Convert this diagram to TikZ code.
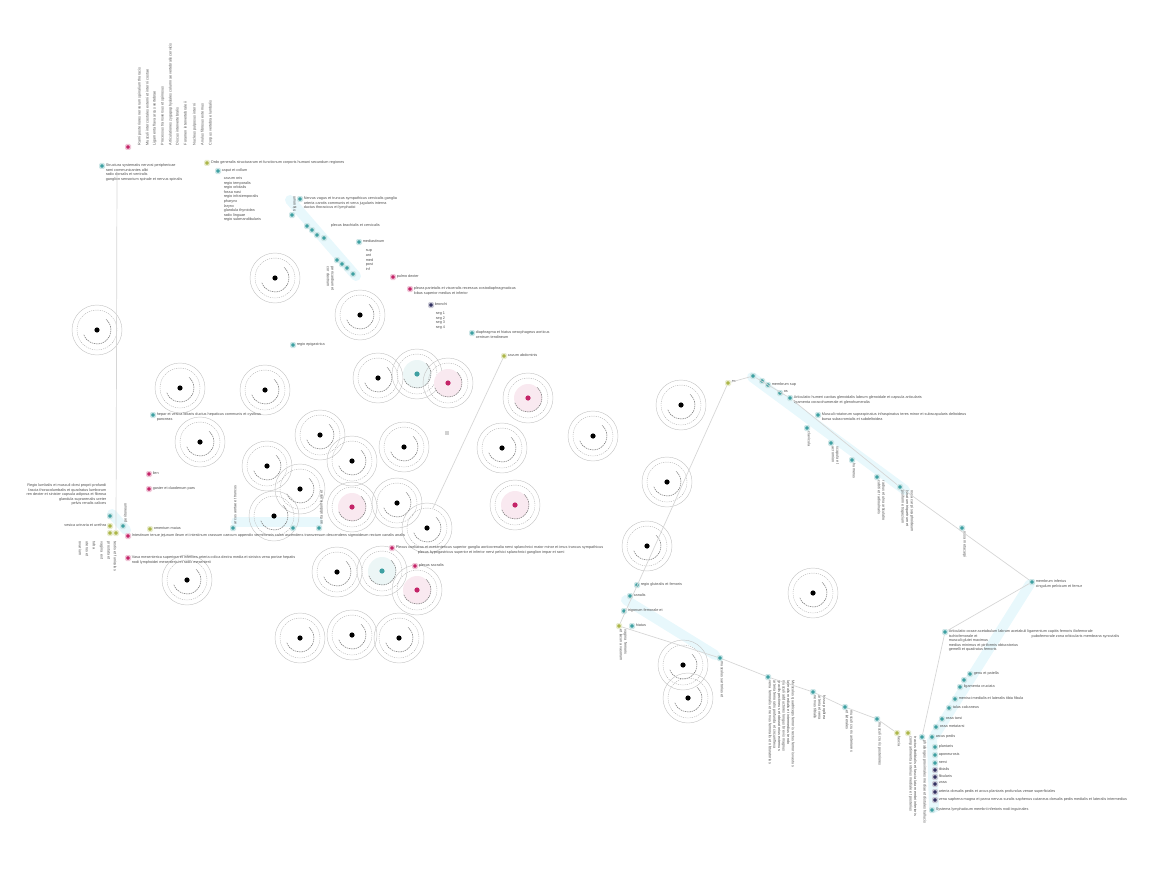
\documentclass[tikz,border=0pt]{standalone}
\usepackage{fontspec}
\setmainfont{Liberation Sans}
\usetikzlibrary{positioning}
\definecolor{dotteal}{RGB}{62,160,162}
\definecolor{dotmag}{RGB}{196,36,104}
\definecolor{dotolive}{RGB}{172,182,72}
\definecolor{dotnavy}{RGB}{52,50,98}
\definecolor{wiregray}{RGB}{214,214,214}
\definecolor{textgray}{RGB}{80,80,80}
\definecolor{bandcyan}{RGB}{232,248,252}
\tikzset{
  dot/.style={rectangle, rounded corners=1pt, fill=#1, draw=#1!25, line width=1.4pt, minimum size=4.6pt, inner sep=0pt},
  lbl/.style={font=\fontsize{3.8}{4.6}\selectfont, text=textgray, inner sep=0.6pt, align=left, anchor=north west},
  lblr/.style={lbl, anchor=north east, align=right},
  vdown/.style={lbl, rotate=-90, anchor=south west},
  vup/.style={lbl, rotate=90, anchor=north west},
  wire/.style={draw=wiregray, line width=0.7pt},
  band/.style={draw=bandcyan, line width=10pt, line cap=round},
  ring/.pic={
    \draw[gray!45, line width=0.45pt] (0,0) circle (25);
    \draw[gray!60, line width=0.4pt, dash pattern=on 1.2pt off 1pt] (0,0) circle (20);
    \draw[gray!85!black, line width=0.5pt, dash pattern=on 1.5pt off 0.8pt] (160:14) arc (160:-50:14);
    \fill[#1] (0,0) circle (2.6);
  },
  ringc/.pic={
    \fill[#1!10] (0,0) circle (14);
    \pic {ring=#1};
  }
}
\begin{document}
\begin{tikzpicture}[x=1pt,y=-1pt]
\useasboundingbox (0,0) rectangle (1154,888);

% light bands behind the dot runs
\draw[band] (290,200) -- (356,276);
\draw[band] (752,377) -- (905,490);
\draw[band] (1030,584) -- (935,735);
\draw[band] (932,740) -- (934,808);
\draw[band] (626,600) -- (715,655);
\draw[band] (236,522) -- (318,522);
\draw[band] (112,514) -- (126,530);

% rings
\foreach \x/\y in {275/278, 97/330, 360/315, 180/388, 265/390, 200/442, 378/378,
  320/435, 352/461, 404/447, 267/466, 300/489, 274/516, 397/503, 427/528,
  502/448, 593/436, 681/405, 667/482, 647/546, 337/572, 300/638, 352/635,
  399/638, 187/580, 813/593, 683/665, 688/698}
  \pic at (\x,\y) {ring=black};
\foreach \x/\y in {417/374, 382/571}
  \pic at (\x,\y) {ringc=dotteal};
\foreach \x/\y in {448/383, 528/398, 352/507, 515/505, 417/590}
  \pic at (\x,\y) {ringc=dotmag};

% upper left group
\node[dot=dotmag] (topmag) at (128,147) {};
\foreach \x/\t in {137/{Rami posteriores nervorum spinalium thoracis},
  145/{Musculi intercostales externi et interni costae},
  152/{Ligamenta flava arcus vertebrae},
  160/{Processus transversus et spinosus},
  168/{Articulationes zygapophysiales columnae vertebralis cervicis},
  175/{Discus intervertebralis},
  183/{Foramen intervertebrale ii},
  192/{Nucleus pulposus interni},
  200/{Anulus fibrosus externus},
  208/{Corpus vertebrae lumbalis}}
  \node[vup] at (\x,146) {\t};
\node[dot=dotteal] (topteal) at (102,166) {};
\node[lbl] at (topteal.north east) {Structura systematis nervosi periphericae\\ rami communicantes albi\\ radix dorsalis et ventralis\\ ganglion sensorium spinale et nervus spinalis};
\coordinate (vtop) at (117,172);
\node[dot=dotolive] (listolive) at (207,163) {};
\node[lbl] at (listolive.north east) {Ordo generalis structurarum et functionum corporis humani secundum regiones};
\node[dot=dotteal] (listteal) at (218,171) {};
\node[lbl] at (listteal.north east) {caput et collum};
\node[lbl, anchor=north west] (list) at (223,176) {cavum oris\\ regio temporalis\\ regio orbitalis\\ fossa nasi\\ regio infratemporalis\\ pharynx\\ larynx\\ glandula thyroidea\\ radix linguae\\ regio submandibularis};
\node[dot=dotteal] (vteal) at (292,215) {};
\node[vup] at (vteal.north) {trigonum};
\node[dot=dotteal] (nteal) at (300,199) {};
\node[lbl] at (nteal.north east) {Nervus vagus et truncus sympathicus cervicalis ganglia\\ arteria carotis communis et vena jugularis interna\\ ductus thoracicus et lymphatici};
\foreach \n/\x/\y in {c1/307/226, c2/312/230, c3/317/235, c4/324/238}
  \node[dot=dotteal] (\n) at (\x,\y) {};
\node[lbl] at (330,223) {plexus brachialis et cervicalis};
\node[dot=dotteal] (steal) at (359,242) {};
\node[lbl] at (steal.north east) {mediastinum};
\node[lbl] at (365,249) {sup\\ ant\\ med\\ post\\ inf};
\foreach \n/\x/\y in {d1/337/260, d2/342/264, d3/347/268, d4/353/274}
  \node[dot=dotteal] (\n) at (\x,\y) {};
\node[vdown] at (326,266) {pericardium et\\ cor dextrum};
\node[dot=dotmag] (amag) at (393,277) {};
\node[lbl] at (amag.north east) {pulmo dexter};
\node[dot=dotmag] (bmag) at (410,289) {};
\node[lbl] at (bmag.north east) {pleura parietalis et visceralis recessus costodiaphragmaticus\\ lobus superior medius et inferior};
\node[dot=dotnavy] (cmag) at (431,305) {};
\node[lbl] at (cmag.north east) {bronchi};
\node[lbl] at (435,311) {seg 1\\ seg 2\\ seg 3\\ seg 4};
\node[dot=dotteal] (eteal) at (472,333) {};
\node[lbl] at (eteal.north east) {diaphragma et hiatus oesophageus aorticus\\ centrum tendineum};
\node[dot=dotolive] (midolive) at (504,356) {};
\node[lbl] at (midolive.north east) {cavum abdominis};
\node[dot=dotteal] (fteal) at (293,345) {};
\node[lbl] at (fteal.north east) {regio epigastrica};
\node[dot=dotteal] (gteal) at (153,415) {};
\node[lbl] at (gteal.north east) {hepar et vesica biliaris ductus hepaticus communis et cysticus\\ pancreas};
\node[dot=dotmag] (hmag) at (149,474) {};
\node[lbl] at (hmag.north east) {lien};
\node[dot=dotmag] (imag) at (149,489) {};
\node[lbl] at (imag.north east) {gaster et duodenum pars};

% lower left group
\node[dot=dotteal] (lteal) at (110,516) {};
\node[lblr] at (107,483) {Regio lumbalis et musculi dorsi proprii profundi\\ fascia thoracolumbalis et quadratus lumborum\\ ren dexter et sinister capsula adiposa et fibrosa\\ glandula suprarenalis ureter\\ pelvis renalis calices};
\node[dot=dotolive] (lolive) at (110,526) {};
\node[lblr] at (lolive.north west) {vesica urinaria et urethra};
\node[dot=dotolive] (lolivea) at (110,533) {};
\node[dot=dotolive] (loliveb) at (116,533) {};
\node[dot=dotteal] (lteala) at (123,526) {};
\node[vup] at (lteala.north) {peritoneum};
\foreach \x/\t in {78/{ovarium}, 85/{uterus et}, 92/{tuba}, 99/{vagina ext}, 106/{prostata et}, 113/{testis et funiculus}}
  \node[vdown, anchor=south west] at (\x,541) {\t};
\node[dot=dotmag] (jmag) at (128,536) {};
\node[lbl] at (jmag.north east) {Intestinum tenue jejunum ileum et intestinum crassum caecum appendix vermiformis colon ascendens transversum descendens sigmoideum rectum canalis analis};
\node[dot=dotmag] (kmag) at (128,558) {};
\node[lbl] at (kmag.north east) {Vasa mesenterica superiora et inferiora arteria colica dextra media et sinistra vena portae hepatis\\ nodi lymphoidei mesenterici et radix mesenterii};
\node[dot=dotolive] (molive) at (150,529) {};
\node[lbl] at (molive.north east) {omentum maius};
\node[dot=dotteal] (nteala) at (233,528) {};
\node[vup] at (nteala.north) {arcus aortae et truncus};
\node[dot=dotteal] (ntealb) at (293,528) {};
\node[dot=dotteal] (ntealc) at (319,528) {};
\node[vup] at (ntealc.north) {aorta abdominalis et};
\node[dot=dotmag] (omag) at (392,548) {};
\node[lbl] at (omag.north east) {Plexus coeliacus et mesentericus superior ganglia aorticorenalia nervi splanchnici maior minor et imus truncus sympathicus\\ \hspace*{22pt}plexus hypogastricus superior et inferior nervi pelvici splanchnici ganglion impar et rami};
\node[dot=dotmag] (pmag) at (415,566) {};
\node[lbl] at (pmag.north east) {plexus sacralis};
\node[fill=gray!35, minimum size=4pt, inner sep=0pt] (sq) at (447,433) {};

% right group
\node[dot=dotolive] (rolive) at (728,383) {};
\node[lbl] at (rolive.north east) {ex};
\foreach \n/\x/\y in {r1/753/376, r2/762/381, r3/768/385}
  \node[dot=dotteal] (\n) at (\x,\y) {};
\node[lbl] at (r3.north east) {membrum sup};
\node[dot=dotteal] (r4) at (780,393) {};
\node[lbl] at (r4.north east) {os};
\node[dot=dotteal] (r5) at (790,398) {};
\node[lbl] at (r5.north east) {Articulatio humeri cavitas glenoidalis labrum glenoidale et capsula articularis\\ ligamenta coracohumerale et glenohumeralia};
\node[dot=dotteal] (r6) at (818,415) {};
\node[lbl] at (r6.north east) {Musculi rotatorum supraspinatus infraspinatus teres minor et subscapularis deltoideus\\ bursa subacromialis et subdeltoidea};
\node[dot=dotteal] (r7) at (807,428) {};
\node[vdown] at (r7.south) {clavicula};
\node[dot=dotteal] (r8) at (831,443) {};
\node[vdown] at (r8.south) {scapula et\\ acromion};
\node[dot=dotteal] (r9) at (852,460) {};
\node[vdown] at (r9.south) {humerus};
\node[dot=dotteal] (r10) at (877,477) {};
\node[vdown] at (r10.south) {radius et ulna articulatio\\ cubiti et radioulnaris};
\node[dot=dotteal] (r11) at (900,487) {};
\node[vdown] at (r11.south) {ossa carpi scaphoideum\\ lunatum triquetrum et\\ pisiforme trapezium};
\node[dot=dotteal] (r12) at (962,528) {};
\node[vdown] at (r12.south) {ossa metacarpi};
\node[dot=dotteal] (rfar) at (1032,582) {};
\node[lbl] at (rfar.north east) {membrum inferius\\ cingulum pelvicum et femur};
\node[dot=dotteal] (s1) at (945,632) {};
\node[lbl] at (s1.north east) {Articulatio coxae acetabulum labrum acetabuli ligamentum capitis femoris iliofemorale\\ ischiofemorale et \hspace{52pt} pubofemorale zona orbicularis membrana synovialis\\ musculi glutei maximus\\ medius minimus et piriformis obturatorius\\ gemelli et quadratus femoris};
\foreach \n/\x/\y/\t in {s2/970/674/{genu et patella},
  s3/964/680/{},
  s4/960/687/{ligamenta cruciata},
  s5/955/699/{menisci medialis et lateralis tibia fibula},
  s6/949/708/{talus calcaneus},
  s7/942/719/{ossa tarsi},
  s8/936/727/{ossa metatarsi}}
  { \node[dot=dotteal] (\n) at (\x,\y) {};
    \node[lbl] at (\n.north east) {\t}; }
\node[dot=dotteal] (s9) at (922,737) {};
\node[vdown] at (s9.south) {phalanges proximales mediae et distales hallucis};
\node[dot=dotteal] (s10) at (932,737) {};
\node[lbl] at (s10.north east) {arcus pedis};
\foreach \n/\y/\c/\t in {u1/747/dotteal/{plantaris},
  u2/755/dotteal/{aponeurosis},
  u3/763/dotteal/{nervi},
  u4/770/dotnavy/{tibialis},
  u5/777/dotnavy/{fibularis},
  u6/784/dotnavy/{vasa},
  u7/792/dotnavy/{arteria dorsalis pedis et arcus plantaris profundus venae superficiales},
  u8/800/dotnavy/{vena saphena magna et parva nervus suralis saphenus cutaneus dorsalis pedis medialis et lateralis intermedius}}
  { \node[dot=\c] (\n) at (935,\y) {};
    \node[lbl] at (\n.north east) {\t}; }
\node[dot=dotteal] (u9) at (932,810) {};
\node[lbl] at (u9.north east) {Systema lymphaticum membri inferioris nodi inguinales};
\node[dot=dotolive] (volive) at (897,733) {};
\node[vdown] at (volive.south) {fascia};
\node[dot=dotolive] (wolive) at (908,733) {};
\node[vdown] at (wolive.south) {tractus iliotibialis et fascia lata membri inferioris\\ compartimenta anterius mediale et posterius};

% bottom right run
\node[dot=dotteal] (b1) at (637,585) {};
\node[lbl] at (b1.north east) {regio glutealis et femoris};
\node[dot=dotteal] (b2) at (630,596) {};
\node[lbl] at (b2.north east) {canalis};
\node[dot=dotteal] (b3) at (624,611) {};
\node[lbl] at (b3.north east) {trigonum femorale et};
\node[dot=dotolive] (btolive) at (619,626) {};
\node[vdown] at (btolive.south) {vagina femoris\\ et lacuna vasorum};
\node[dot=dotteal] (b4) at (632,626) {};
\node[lbl] at (b4.north east) {hiatus};
\node[dot=dotteal] (b5) at (720,658) {};
\node[vdown] at (b5.south) {musculus sartorius et};
\node[dot=dotteal] (b6) at (768,677) {};
\node[vdown] at (b6.south) {Musculus quadriceps femoris rectus femoris vastus\\ lateralis medialis et intermedius tendo\\ musculi adductores longus brevis magnus\\ gracilis pectineus et obturatorius externus\\ arteria femoralis profunda et circumflexa\\ vena femoralis et nervus femoralis et obturatorius};
\node[dot=dotteal] (b7) at (813,692) {};
\node[vdown] at (b7.south) {fossa poplitea\\ arteria et vena\\ nervus tibialis};
\node[dot=dotteal] (b8) at (845,707) {};
\node[vdown] at (b8.south) {musculi cruris anteriores\\ et laterales};
\node[dot=dotteal] (b9) at (877,719) {};
\node[vdown] at (b9.south) {musculi cruris posteriores};

% connectors
\draw[wire] (vtop) -- (loliveb);
\coordinate (l2end) at (433,508);
\draw[wire] (midolive) -- (l2end);
\draw[wire] (rolive) -- (btolive);
\draw[wire] (rolive) -- (r1) -- (r5) -- (r11) -- (rfar);
\draw[wire] (rfar) -- (s1) -- (s9);
\draw[wire] (btolive) -- (b5) -- (b6) -- (b7) -- (b8) -- (b9) -- (volive);
\end{tikzpicture}
\end{document}
